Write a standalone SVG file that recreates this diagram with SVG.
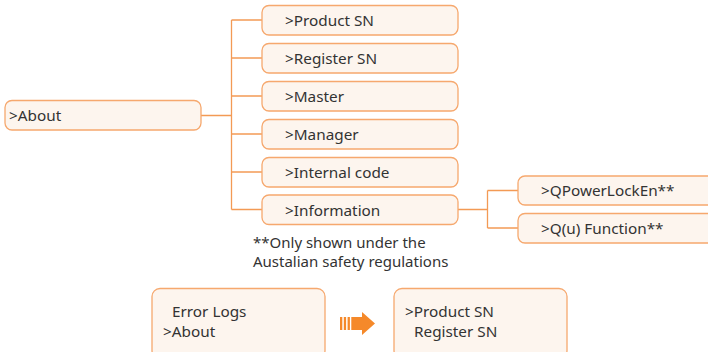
<svg xmlns="http://www.w3.org/2000/svg" width="708" height="352" viewBox="0 0 708 352">
<style>
.box{fill:#FDF5EE;stroke:#F6A86E;stroke-width:1.3}
.t{font-family:"Noto Sans","Lato",sans-serif;font-size:15.3px;fill:#333}
.n{font-family:"Noto Sans","Lato",sans-serif;font-size:15px;fill:#333}
.ln{fill:none;stroke:#F39A55;stroke-width:1.3}
</style>
<rect width="708" height="352" fill="#fff"/>
<g id="connectors">
<path class="ln" d="M201,115.5H231.5M231.5,20V209.5M231.5,20H262M231.5,58H262M231.5,96H262M231.5,134H262M231.5,172H262M231.5,209.5H262"/>
<path class="ln" d="M458,209.5H487.5M487.5,190.5V228M487.5,190.5H518M487.5,228H518"/>
</g>
<g id="about"><rect class="box" x="5" y="100.5" width="196" height="29.5" rx="7"/><text class="t" x="9" y="121">&gt;About</text></g>
<g id="productsn"><rect class="box" x="262" y="5.5" width="196" height="29.5" rx="7"/><text class="t" x="285" y="26">&gt;Product SN</text></g>
<g id="registersn"><rect class="box" x="262" y="43.5" width="196" height="29.5" rx="7"/><text class="t" x="285" y="64">&gt;Register SN</text></g>
<g id="master"><rect class="box" x="262" y="81.5" width="196" height="29.5" rx="7"/><text class="t" x="285" y="102">&gt;Master</text></g>
<g id="manager"><rect class="box" x="262" y="119.5" width="196" height="29.5" rx="7"/><text class="t" x="285" y="140">&gt;Manager</text></g>
<g id="internal"><rect class="box" x="262" y="157.5" width="196" height="29.5" rx="7"/><text class="t" x="285" y="178">&gt;Internal code</text></g>
<g id="information"><rect class="box" x="262" y="195" width="196" height="29.5" rx="7"/><text class="t" x="285" y="215.5">&gt;Information</text></g>
<g id="qpower"><rect class="box" x="518" y="176" width="200" height="29" rx="7"/><text class="t" x="541" y="196">&gt;QPowerLockEn**</text></g>
<g id="qu"><rect class="box" x="518" y="213.5" width="200" height="29.5" rx="7"/><text class="t" x="541" y="234">&gt;Q(u) Function**</text></g>
<g id="note"><text class="n" x="253" y="247.5">**Only shown under the</text><text class="n" x="253" y="266.5">Austalian safety regulations</text></g>
<g id="menu1"><rect class="box" x="152" y="288.5" width="173" height="70" rx="8"/><text class="t" x="172" y="317">Error Logs</text><text class="t" x="163" y="337">&gt;About</text></g>
<g id="arrow" fill="#F5892A"><rect x="340" y="317" width="2.3" height="13"/><rect x="343.8" y="317" width="2.3" height="13"/><rect x="347.6" y="317" width="2.3" height="13"/><path d="M351.3,317H362V312L375,323.5L362,335V330H351.3Z"/></g>
<g id="menu2"><rect class="box" x="394" y="288.5" width="173" height="70" rx="8"/><text class="t" x="405" y="317">&gt;Product SN</text><text class="t" x="414" y="337">Register SN</text></g>
</svg>
